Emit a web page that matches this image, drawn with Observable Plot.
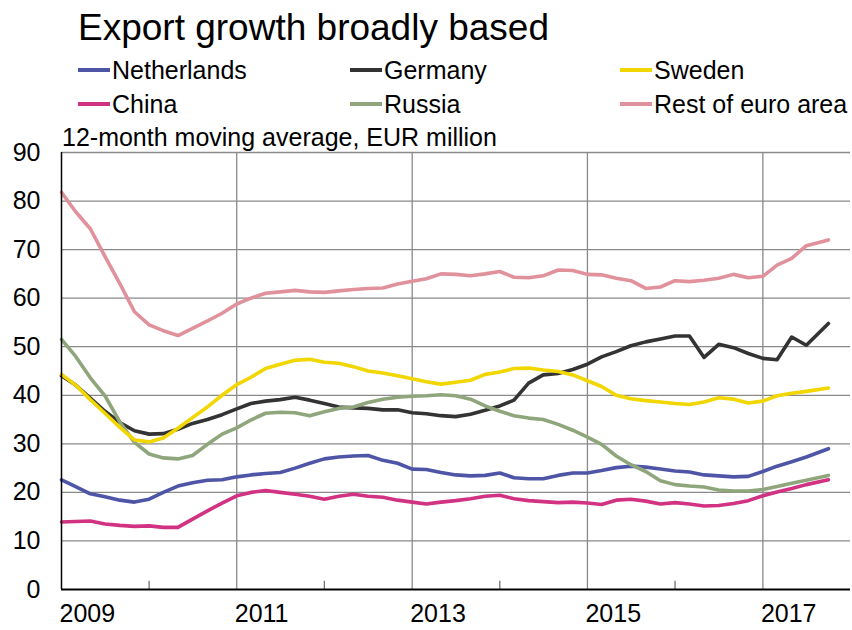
<!DOCTYPE html>
<html><head><meta charset="utf-8">
<script src="https://cdn.jsdelivr.net/npm/d3@7"></script>
<script src="https://cdn.jsdelivr.net/npm/@observablehq/plot@0.6"></script>
<style>
body{margin:0;background:#fff;font-family:"Liberation Sans",Arial,sans-serif;}
#wrap{position:relative;width:852px;height:630px;overflow:hidden;background:#fff;}
.t{position:absolute;white-space:nowrap;color:#000;z-index:2;}
#title{left:78px;top:9px;font-size:37px;line-height:37px;}
.leg{font-size:25px;line-height:25px;}
.sw{position:absolute;height:4px;width:32px;z-index:2;}
#sub{left:62px;top:125px;font-size:25px;line-height:25px;}
#chart{position:absolute;left:0;top:120px;z-index:1;}
</style></head>
<body><div id="wrap">
<div id="title" class="t">Export growth broadly based</div>
<div id="sub" class="t">12-month moving average, EUR million</div>
<div id="chart"></div>
</div>
<script>
const months = [
"2009-01","2009-03","2009-05","2009-07","2009-09","2009-11",
"2010-01","2010-03","2010-05","2010-07","2010-09","2010-11",
"2011-01","2011-03","2011-05","2011-07","2011-09","2011-11",
"2012-01","2012-03","2012-05","2012-07","2012-09","2012-11",
"2013-01","2013-03","2013-05","2013-07","2013-09","2013-11",
"2014-01","2014-03","2014-05","2014-07","2014-09","2014-11",
"2015-01","2015-03","2015-05","2015-07","2015-09","2015-11",
"2016-01","2016-03","2016-05","2016-07","2016-09","2016-11",
"2017-01","2017-03","2017-05","2017-07","2017-10"];

const netherlands = [22.6,21.2,19.7,19.1,18.4,18.0, 18.6,20.0,21.3,22.0,22.5,22.6, 23.2,23.6,23.9,24.1,25.0,26.0, 26.9,27.3,27.5,27.6,26.6,26.0, 24.8,24.7,24.1,23.6,23.4,23.5, 24.0,23.0,22.8,22.8,23.5,24.0, 24.0,24.5,25.1,25.4,25.2,24.8, 24.4,24.2,23.6,23.4,23.2,23.3, 24.3,25.4,26.3,27.3,29.0];
const germany = [44.0,42.1,39.4,36.7,34.4,32.7, 32.0,32.1,33.0,34.2,35.0,36.0, 37.2,38.3,38.8,39.1,39.6,39.0, 38.3,37.6,37.4,37.3,37.0,37.0, 36.4,36.2,35.8,35.6,36.1,36.9, 37.8,39.0,42.5,44.2,44.5,45.3, 46.4,47.9,49.0,50.2,51.0,51.6, 52.2,52.2,47.8,50.5,49.8,48.6, 47.6,47.3,52.0,50.3,54.8];
const sweden = [44.3,42.1,39.1,36.3,33.4,30.8, 30.4,31.2,33.2,35.4,37.6,40.0, 42.2,43.7,45.5,46.4,47.2,47.4, 46.8,46.6,45.9,45.0,44.6,44.0, 43.4,42.8,42.3,42.7,43.1,44.3, 44.8,45.5,45.6,45.2,44.9,44.2, 43.0,41.8,40.0,39.3,38.9,38.6, 38.3,38.1,38.6,39.5,39.2,38.4, 38.8,39.9,40.4,40.8,41.5];
const china = [13.9,14.0,14.1,13.5,13.2,13.0, 13.1,12.8,12.8,14.5,16.2,17.8, 19.3,20.0,20.4,20.0,19.6,19.2, 18.6,19.2,19.6,19.2,19.0,18.4, 18.0,17.6,18.0,18.3,18.7,19.2, 19.4,18.7,18.3,18.1,17.9,18.0, 17.8,17.5,18.4,18.6,18.2,17.6, 17.9,17.6,17.2,17.3,17.7,18.3, 19.3,20.1,20.8,21.6,22.6];
const russia = [51.5,48.0,43.6,39.9,34.5,30.3, 27.9,27.1,26.9,27.6,29.9,32.0, 33.3,34.9,36.3,36.5,36.4,35.8, 36.6,37.3,37.6,38.5,39.2,39.6, 39.8,39.9,40.1,39.9,39.2,37.8, 36.7,35.8,35.3,35.0,34.0,32.8, 31.4,29.9,27.5,25.7,24.3,22.4, 21.6,21.3,21.1,20.5,20.3,20.3, 20.6,21.2,21.9,22.5,23.5];
const restEuro = [81.8,77.8,74.3,68.6,63.0,57.2, 54.5,53.3,52.3,53.8,55.3,56.9, 58.8,60.0,61.0,61.3,61.6,61.3, 61.2,61.5,61.8,62.0,62.1,62.9, 63.5,64.0,65.0,64.9,64.6,65.0, 65.5,64.3,64.2,64.6,65.8,65.7, 64.9,64.8,64.1,63.6,62.0,62.3, 63.6,63.4,63.7,64.1,64.9,64.2, 64.5,66.8,68.2,70.8,72.0];

const seriesNames = ["Netherlands","Germany","Sweden","China","Russia","Rest of euro area"];
const seriesValues = [netherlands, germany, sweden, china, russia, restEuro];
const seriesColors = ["#4f55a6","#333333","#f2d600","#d23282","#8fa67c","#e1919b"];
const drawOrder = ["Netherlands","Germany","China","Russia","Sweden","Rest of euro area"];

const yTicks = [0,10,20,30,40,50,60,70,80,90];
const xTickLabels = ["2009","2011","2013","2015","2017"];
const minorYears = ["2010","2012","2014","2016"];

const parseM = d3.utcParse("%Y-%m");
const parseY = d3.utcParse("%Y");
const dates = months.map(parseM);

const table = [];
seriesNames.forEach((name, k) => {
  seriesValues[k].forEach((v, i) => table.push({name, date: dates[i], value: v}));
});

// Legend (HTML, above the SVG)
const wrap = document.getElementById("wrap");
const colX = [78, 350, 620];
const rowBase = [79, 113];
seriesNames.forEach((name, k) => {
  const col = k % 3, row = Math.floor(k / 3);
  const sw = document.createElement("div");
  sw.className = "sw";
  sw.style.left = colX[col] + "px";
  sw.style.top = (rowBase[row] - 11) + "px";
  sw.style.background = seriesColors[k];
  wrap.appendChild(sw);
  const lab = document.createElement("div");
  lab.className = "t leg";
  lab.textContent = name;
  lab.style.left = (colX[col] + 34) + "px";
  lab.style.top = (rowBase[row] - 21) + "px";
  wrap.appendChild(lab);
});

const gridColor = "#8a8a8a";
const x0 = parseY("2009"), x1 = parseY("2018");

const lineMarks = drawOrder.map(name => {
  const k = seriesNames.indexOf(name);
  return Plot.line(table.filter(d => d.name === name), {
    x: "date", y: "value", stroke: seriesColors[k],
    strokeWidth: 3.6, strokeLinejoin: "round", strokeLinecap: "round"
  });
});

const chart = Plot.plot({
  width: 852, height: 510,
  marginLeft: 61, marginRight: 2, marginTop: 32, marginBottom: 41,
  style: {fontFamily: '"Liberation Sans", Arial, sans-serif', fontSize: "25px", color: "#000", background: "transparent", overflow: "visible"},
  x: {type: "utc", domain: [x0, x1]},
  y: {domain: [0, 90]},
  marks: [
    Plot.ruleY(yTicks.filter(d => d > 0), {stroke: gridColor, strokeWidth: 1.3}),
    Plot.ruleX(xTickLabels.slice(1).map(parseY), {stroke: gridColor, strokeWidth: 1.3}),
    Plot.ruleX(minorYears.map(parseY), {y1: 0, y2: 1.7, stroke: "#666", strokeWidth: 1.2}),
    Plot.axisY(yTicks, {tickSize: 0, tickPadding: 21, fontSize: 25, label: null}),
    Plot.axisX(xTickLabels.map(parseY), {tickSize: 0, tickPadding: 15, textAnchor: "start", dx: -2, fontSize: 25, tickFormat: d => d3.utcFormat("%Y")(d), label: null}),
    ...lineMarks,
    Plot.ruleX([x0], {stroke: "#000", strokeWidth: 1.5}),
    Plot.ruleY([0], {stroke: "#000", strokeWidth: 2})
  ]
});
document.getElementById("chart").appendChild(chart);
</script>
</body></html>
